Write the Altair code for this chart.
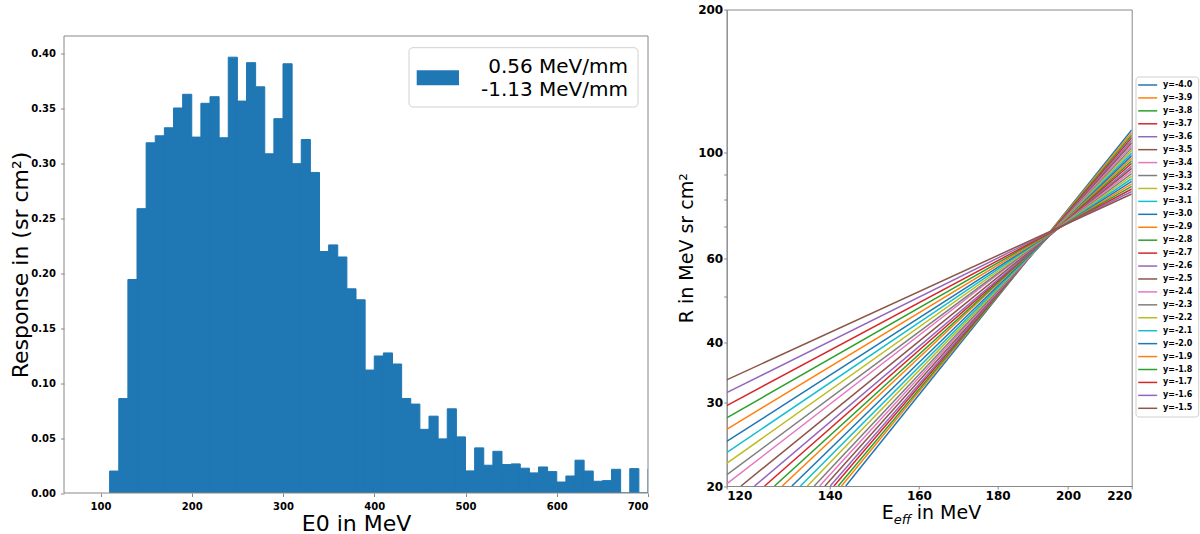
import altair as alt
import pandas as pd

FONT = "DejaVu Sans"
AXIS_GREY = "#888888"

# ---------------- left panel: response histogram (10 MeV bins) ----------------
bin_lo = list(range(110, 710, 10))
response = [
    0.020, 0.086, 0.1945, 0.259, 0.319, 0.3254, 0.3327, 0.3507, 0.3632, 0.3242,
    0.355, 0.361, 0.3236, 0.397, 0.357, 0.392, 0.370, 0.309, 0.341, 0.391,
    0.300, 0.322, 0.292, 0.220, 0.226, 0.215, 0.186, 0.176, 0.112, 0.1248,
    0.1276, 0.1175, 0.0861, 0.081, 0.058, 0.070, 0.0493, 0.0767, 0.0511, 0.0201,
    0.0411, 0.0253, 0.038, 0.0259, 0.0265, 0.0226, 0.0183, 0.0237, 0.0195, 0.010,
    0.0155, 0.0299, 0.020, 0.0107, 0.0113, 0.0216, 0.0, 0.0222, 0.0, 0.022,
]
hist_legend = ["0.56 MeV/mm", "-1.13 MeV/mm"]
e0_ticks = [100, 200, 300, 400, 500, 600, 700]
resp_ticks = [0.0, 0.05, 0.10, 0.15, 0.20, 0.25, 0.30, 0.35, 0.40]
RESP_TOP = 0.4163  # upper limit of the framed response axis

# ---------------- right panel: R(E_eff) for a set of spectral indices ----------------
index_labels = [f"y={v:.1f}" for v in
                [-4.0, -3.9, -3.8, -3.7, -3.6, -3.5, -3.4, -3.3, -3.2, -3.1, -3.0, -2.9, -2.8,
                 -2.7, -2.6, -2.5, -2.4, -2.3, -2.2, -2.1, -2.0, -1.9, -1.8, -1.7, -1.6, -1.5]]
# first visible point of each line (E in MeV, R)
e_first = [143.4, 142.5, 141.8, 140.9, 140.1, 139.0, 137.9, 136.8, 135.4, 134.0, 132.3, 130.4, 128.9,
           127.0, 125.1, 122.6, 120, 120, 120, 120, 120, 120, 120, 120, 120, 120]
r_first = [20, 20, 20, 20, 20, 20, 20, 20, 20, 20, 20, 20, 20,
           20, 20, 20, 20.2, 21.1, 22.3, 23.5, 24.8, 26.3, 27.8, 29.5, 31.4, 33.4]
# value at E = 220 MeV
e_last = 220
r_last = [111.7, 110.3, 109.0, 107.6, 106.3, 105.0, 103.7, 102.4, 101.2, 99.9, 98.7, 97.5, 96.3,
          95.1, 93.9, 92.8, 91.6, 90.5, 89.4, 88.3, 87.2, 86.1, 85.1, 84.0, 83.0, 82.0]
eeff_ticks = [120, 140, 160, 180, 200, 220]
r_ticks = [20, 30, 40, 50, 60, 70, 80, 90, 100, 200]
r_labelled = [20, 30, 40, 60, 100, 200]

tab10 = ["#1f77b4", "#ff7f0e", "#2ca02c", "#d62728", "#9467bd",
         "#8c564b", "#e377c2", "#7f7f7f", "#bcbd22", "#17becf"]
line_colors = [tab10[i % 10] for i in range(len(index_labels))]

# ---------------- tables ----------------
hist_df = pd.DataFrame({"lo": bin_lo, "hi": [b + 10 for b in bin_lo], "response": response})
rows = []
for lab, e0, r0, r1 in zip(index_labels, e_first, r_first, r_last):
    rows.append({"label": lab, "E": e0, "R": r0})
    rows.append({"label": lab, "E": e_last, "R": r1})
lines_df = pd.DataFrame(rows)
legend_df = pd.DataFrame({"label": index_labels})
one = alt.Data(values=[{}])

# ---------------- left panel ----------------
LW, LH = 584, 457
TOP_GAP = 26.5            # free band above the histogram frame
LH_ALL = LH + TOP_GAP
y_max = RESP_TOP * LH_ALL / LH

bars = alt.Chart(hist_df).mark_rect(color="#1f77b4", stroke="#1f77b4", strokeWidth=1, clip=True).encode(
    x=alt.X("lo:Q",
            scale=alt.Scale(domain=[60, 700], nice=False, zero=False),
            axis=alt.Axis(values=e0_ticks, format="d", title="E0 in MeV", grid=False,
                          labelFont=FONT, labelFontWeight="bold", labelFontSize=10, labelColor="black",
                          tickSize=3.5, labelPadding=5, tickColor=AXIS_GREY, domain=False,
                          titleFont=FONT, titleFontSize=22, titleFontWeight="normal", titleColor="black",
                          titleBaseline="middle", titleY=30)),
    x2="hi:Q",
    y=alt.Y("response:Q",
            scale=alt.Scale(domain=[0, y_max], nice=False),
            axis=alt.Axis(values=resp_ticks, format=".2f", title="Response in (sr cm²)", grid=False,
                          labelFont=FONT, labelFontWeight="bold", labelFontSize=10, labelColor="black",
                          tickSize=3.5, labelPadding=5, tickColor=AXIS_GREY, domain=False,
                          titleFont=FONT, titleFontSize=22, titleFontWeight="normal", titleColor="black",
                          titleBaseline="middle", titleAlign="center", titleAngle=270,
                          titleX=-44, titleY=TOP_GAP + LH / 2)),
    y2=alt.datum(0),
)
frame = alt.Chart(one).mark_rect(fill="transparent", stroke=AXIS_GREY, strokeWidth=1).encode(
    x=alt.value(0), x2=alt.value(LW), y=alt.value(TOP_GAP), y2=alt.value(LH_ALL))
hist_box = alt.Chart(one).mark_rect(fill="white", stroke="#d0d0d0", strokeWidth=1, cornerRadius=4).encode(
    x=alt.value(345), x2=alt.value(574), y=alt.value(TOP_GAP + 11.7), y2=alt.value(TOP_GAP + 71))
hist_patch = alt.Chart(one).mark_rect(fill="#1f77b4").encode(
    x=alt.value(352.7), x2=alt.value(395), y=alt.value(TOP_GAP + 34.3), y2=alt.value(TOP_GAP + 49.3))
hist_txt1 = alt.Chart(one).mark_text(align="right", baseline="alphabetic", font=FONT, fontSize=20,
                                     color="black").encode(
    x=alt.value(564), y=alt.value(TOP_GAP + 36.7), text=alt.value(hist_legend[0]))
hist_txt2 = alt.Chart(one).mark_text(align="right", baseline="alphabetic", font=FONT, fontSize=20,
                                     color="black").encode(
    x=alt.value(564), y=alt.value(TOP_GAP + 60), text=alt.value(hist_legend[1]))
left = alt.layer(bars, frame, hist_box, hist_patch, hist_txt1, hist_txt2).properties(
    width=LW, height=LH_ALL, view=alt.ViewBackground(strokeOpacity=0))

# ---------------- right panel ----------------
RW, RH = 405, 476.5
color = alt.Color("label:N", scale=alt.Scale(domain=index_labels, range=line_colors), legend=None)
lines = alt.Chart(lines_df).mark_line(clip=True, strokeWidth=1.5).encode(
    x=alt.X("E:Q",
            scale=alt.Scale(type="log", domain=[120, 220], nice=False),
            axis=alt.Axis(values=eeff_ticks, format="d", title=None, grid=False,
                          labelFont=FONT, labelFontWeight="bold", labelFontSize=12, labelColor="black",
                          tickSize=3, labelPadding=1, tickColor=AXIS_GREY, domainColor=AXIS_GREY)),
    y=alt.Y("R:Q",
            scale=alt.Scale(type="log", domain=[20, 200], nice=False),
            axis=alt.Axis(values=r_ticks, title="R in MeV sr cm²", grid=False,
                          labelExpr="indexof(" + str(r_labelled) + ", datum.value) >= 0 ? format(datum.value, 'd') : ''",
                          labelFont=FONT, labelFontWeight="bold", labelFontSize=12, labelColor="black",
                          tickSize=3, labelPadding=1, tickColor=AXIS_GREY, domainColor=AXIS_GREY,
                          titleFont=FONT, titleFontSize=19, titleFontWeight="normal", titleColor="black",
                          titleBaseline="middle", titleAlign="center", titleAngle=270,
                          titleX=-40, titleY=RH / 2)),
    color=color,
    order="E:Q",
)
ypos = alt.Y("label:N", scale=alt.Scale(type="point", domain=index_labels, range=[75.5, 398.8], padding=0),
             axis=None)
leg_box = alt.Chart(one).mark_rect(fill="white", stroke="#d0d0d0", strokeWidth=1, cornerRadius=3).encode(
    x=alt.value(409.3), x2=alt.value(472), y=alt.value(67.5), y2=alt.value(407.5))
leg_rules = alt.Chart(legend_df).mark_rule(strokeWidth=1.5).encode(
    x=alt.value(411.5), x2=alt.value(430.5), y=ypos, color=color)
leg_text = alt.Chart(legend_df).mark_text(align="left", baseline="middle", font=FONT, fontSize=8,
                                          fontWeight="bold", color="black").encode(
    x=alt.value(436.3), y=ypos, text="label:N")
# x-axis title with a subscript
t_e = alt.Chart(one).mark_text(align="left", baseline="alphabetic", font=FONT, fontSize=19,
                               color="black").encode(x=alt.value(155), y=alt.value(509.5), text=alt.value("E"))
t_sub = alt.Chart(one).mark_text(align="left", baseline="alphabetic", font=FONT, fontSize=13,
                                 fontStyle="italic", color="black").encode(
    x=alt.value(167), y=alt.value(514), text=alt.value("eff"))
t_rest = alt.Chart(one).mark_text(align="left", baseline="alphabetic", font=FONT, fontSize=19,
                                  color="black").encode(x=alt.value(190), y=alt.value(509.5), text=alt.value("in MeV"))

right = alt.layer(leg_box, lines, leg_rules, leg_text, t_e, t_sub, t_rest).resolve_scale(
    y="independent").properties(width=RW, height=RH,
                                view=alt.ViewBackground(stroke=AXIS_GREY, strokeWidth=1))

chart = alt.hconcat(left, right, spacing=78.7, bounds="flush").properties(
    padding={"left": 9, "top": 2.5, "right": 0, "bottom": 0},
    background="white",
)

chart.save("out.html", embed_options={"renderer": "svg", "actions": False})
